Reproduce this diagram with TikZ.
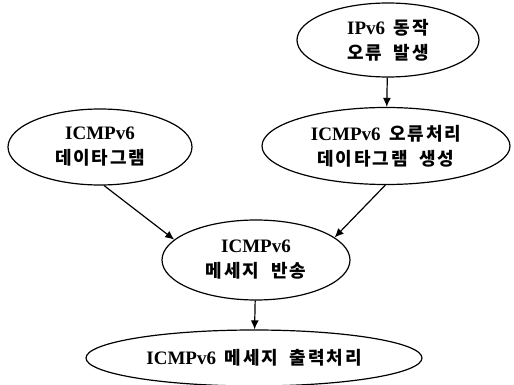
\documentclass[tikz,border=0pt]{standalone}
\usepackage{fontspec}
\setmainfont{Liberation Serif}
\newfontfamily\kr[LetterSpace=10]{Noto Sans CJK KR}
\usepackage{tikz}
\usetikzlibrary{positioning,arrows.meta,shapes.geometric}

\newcommand{\ko}[1]{{\kr\bfseries\fontsize{18}{25}\selectfont #1}}

\tikzset{
    blob/.style={draw, ellipse, line width=1.2pt, inner sep=0pt, align=center,
        font=\fontsize{19}{25}\selectfont\bfseries},
    arr/.style={line width=1.2pt, -{Latex[length=9pt,width=8pt]}},
}

\begin{document}
\begin{tikzpicture}[x=1pt, y=-1pt]

    \useasboundingbox (0,0) rectangle (514,385);

    \node (ipv6) [blob, minimum width=182pt, minimum height=74pt] at (388,40) {IPv6\hspace{4pt} \ko{동작}\\\ko{오류 \ 발생}};
    \node (dg) [blob, minimum width=184pt, minimum height=76pt] at (100,147) {ICMPv6\\\ko{데이타그램}};
    \node (errdg) [blob, minimum width=248pt, minimum height=77pt] at (386,146) {ICMPv6\hspace{4pt} \ko{오류처리}\\\ko{데이타그램 \ 생성}};
    \node (msg) [blob, minimum width=188pt, minimum height=80pt] at (256,260) {ICMPv6\\\ko{메세지 \ 반송}};
    \node (out) [blob, minimum width=336pt, minimum height=56pt] at (254,358) {ICMPv6\hspace{4pt} \ko{메세지 \ 출력처리}};

    \draw[arr] (ipv6) -- (errdg);
    \draw[arr] (dg.-84) -- (msg.166);
    \draw[arr] (errdg.-91) -- (msg.16);
    \draw[arr] (msg) -- (out);

\end{tikzpicture}
\end{document}
